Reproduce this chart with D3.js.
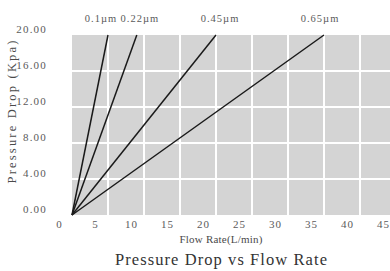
<!DOCTYPE html>
<html>
<head>
<meta charset="utf-8">
<script src="https://cdn.jsdelivr.net/npm/d3@7"></script>
<style>
  body { margin: 0; background: #fff; }
  svg { display: block; font-family: "Liberation Serif", "DejaVu Serif", serif; }
</style>
</head>
<body>
<div id="chart"></div>
<script>
// data
const poreSizes = ['0.1\u00b5m', '0.22\u00b5m', '0.45\u00b5m', '0.65\u00b5m'];
const flowRate = [[0, 5], [0, 9], [0, 20], [0, 35]]; // L/min
const pressureDrop = [0, 20]; // Kpa
const xTicks = [0, 5, 10, 15, 20, 25, 30, 35, 40, 45];
const yTicks = [0, 4, 8, 12, 16, 20];

// label nudges (px) so the names don't collide
const labelShift = [-7, 3, 4, -4];

const width = 390;
const height = 271;
const margin = { top: 35, right: 0, bottom: 56, left: 72 };

const svg = d3.select('#chart')
  .append('svg')
  .attr('width', width)
  .attr('height', height);

const x = d3.scaleLinear()
  .domain([0, 45])
  .range([margin.left, margin.left + 45 * 7.2]);

const y = d3.scaleLinear()
  .domain([0, 20])
  .range([height - margin.bottom, margin.top]);

// plot background
svg.append('rect')
  .attr('x', x(0))
  .attr('y', y(20))
  .attr('width', width - x(0))
  .attr('height', y(0) - y(20))
  .attr('fill', '#d4d4d4');

// white grid
svg.append('g')
  .selectAll('line')
  .data(xTicks.filter(d => d > 0))
  .enter()
  .append('line')
  .attr('x1', d => x(d))
  .attr('x2', d => x(d))
  .attr('y1', y(20))
  .attr('y2', y(0))
  .attr('stroke', '#fff')
  .attr('stroke-width', 2);

svg.append('g')
  .selectAll('line')
  .data(yTicks.filter(d => d > 0 && d < 20))
  .enter()
  .append('line')
  .attr('x1', x(0))
  .attr('x2', width)
  .attr('y1', d => y(d))
  .attr('y2', d => y(d))
  .attr('stroke', '#fff')
  .attr('stroke-width', 2);

// axes (labels only, no domain / tick marks)
const xAxis = svg.append('g')
  .attr('transform', `translate(0,${y(0)})`)
  .call(d3.axisBottom(x).tickValues(xTicks).tickSize(0).tickPadding(5));
xAxis.select('.domain').remove();
xAxis.selectAll('text')
  .attr('dx', -13)
  .style('font-size', '11px')
  .style('letter-spacing', '1px')
  .style('font-family', '"Liberation Serif", serif')
  .attr('fill', '#5a5a5a');

const yAxis = svg.append('g')
  .attr('transform', `translate(${x(0)},0)`)
  .call(d3.axisLeft(y).tickValues(yTicks).tickFormat(d3.format('.2f')).tickSize(0).tickPadding(25));
yAxis.select('.domain').remove();
yAxis.selectAll('text')
  .attr('dy', -3)
  .style('font-size', '11px')
  .style('letter-spacing', '1.2px')
  .style('font-family', '"Liberation Serif", serif')
  .attr('fill', '#5a5a5a');

// series lines
const line = d3.line()
  .x(d => x(d[0]))
  .y(d => y(d[1]));

svg.append('g')
  .selectAll('path')
  .data(flowRate)
  .enter()
  .append('path')
  .attr('d', d => line(d.map((f, i) => [f, pressureDrop[i]])))
  .attr('fill', 'none')
  .attr('stroke', '#1a1a1a')
  .attr('stroke-width', 1.5);

// series names above the line ends
svg.append('g')
  .selectAll('text')
  .data(poreSizes)
  .enter()
  .append('text')
  .attr('x', (d, i) => x(flowRate[i][1]) + labelShift[i])
  .attr('y', y(20) - 13)
  .attr('text-anchor', 'middle')
  .style('font-size', '10.5px')
  .style('letter-spacing', '1px')
  .attr('fill', '#5a5a5a')
  .text(d => d);

// axis titles
svg.append('text')
  .attr('x', 221)
  .attr('y', 243)
  .attr('text-anchor', 'middle')
  .attr('textLength', 83)
  .attr('lengthAdjust', 'spacing')
  .style('font-size', '11px')
  .attr('fill', '#4a4a4a')
  .text('Flow Rate(L/min)');

svg.append('text')
  .attr('transform', 'translate(16,112) rotate(-90)')
  .attr('text-anchor', 'middle')
  .attr('textLength', 143)
  .attr('lengthAdjust', 'spacing')
  .style('font-size', '12.5px')
  .attr('fill', '#4a4a4a')
  .text('Pressure Drop (Kpa)');

svg.append('text')
  .attr('x', 221)
  .attr('y', 265)
  .attr('text-anchor', 'middle')
  .attr('textLength', 212)
  .attr('lengthAdjust', 'spacing')
  .style('font-size', '16.5px')
  .attr('fill', '#333')
  .text('Pressure Drop vs Flow Rate');
</script>
</body>
</html>
